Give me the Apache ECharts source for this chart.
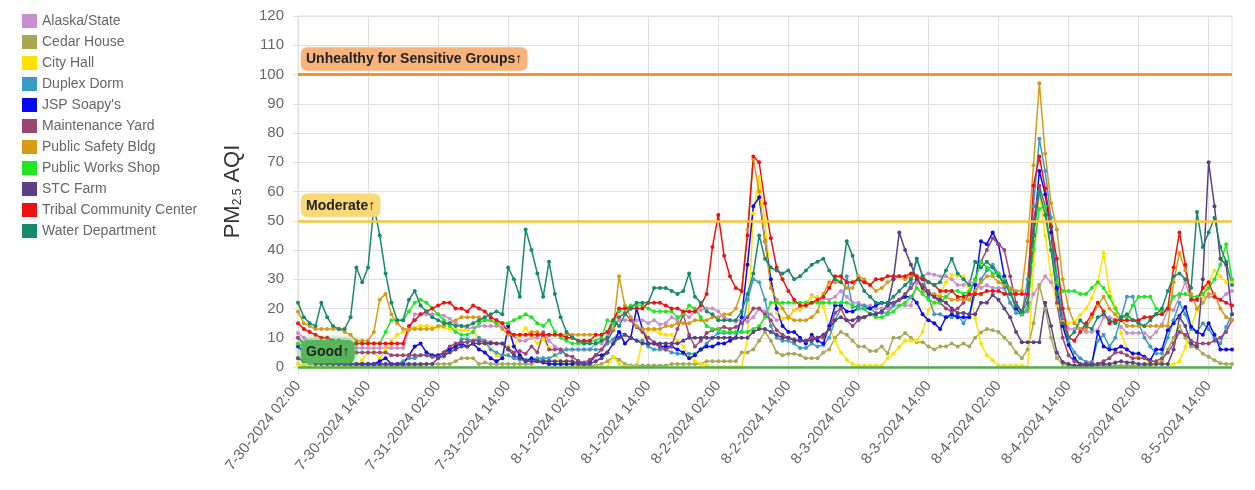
<!DOCTYPE html>
<html>
<head>
<meta charset="utf-8">
<script src="https://cdn.jsdelivr.net/npm/echarts@6/dist/echarts.min.js"></script>
<style>
  html, body { margin: 0; padding: 0; background: #ffffff; }
  #chart { width: 1255px; height: 490px; }
</style>
</head>
<body>
<div id="chart"></div>
<script>
// Hourly PM2.5 AQI readings, 7-30-2024 02:00 through 8-5-2024 18:00
const alaskaState = [
  11.6,10,8.5,7.7,7.7,7.7,7.7,7,7,6.5,6.5,6.5,
  6.5,6.5,6.5,6.5,6.5,6.5,6.5,12.6,18,18,18,18,
  18,17.5,16.5,15,14,13,13.5,14,14,14,14,13.7,
  12.6,10.5,9,9,10,10,12,9,7,6,6,6,
  6,6,6,8,8,10.5,13,16,16,16,16,16,
  15,16,14.5,15,17,16,18.5,17,19,19.5,20,20,
  19,17,16,15.5,16.5,15.5,17,20,19,18,16,16.5,
  17,19.5,20.5,21,24.5,23.5,23.5,23,24,26,24,22,
  22,21,21,20,20,20,21,21,21,21,28.6,31,
  32,31.5,31,31,30,28,28,29,29,27,28,27,
  27,27,22,20,18,19,25,28,31,29,25,20,
  13,13,13,12,12,12.6,17,17,16,13.7,11.6,11.6,
  11.6,11.6,10,12,14.5,19.5,19.5,24,29,23,23,24,
  24,24,23,25,26
];
const cedarHouse = [
  3,2,1,1,1,1,1,1,0.5,0.5,0.5,0.5,
  0.5,0.5,0.5,0.5,0.5,0.5,0.5,0.5,0.5,0.5,1,1,
  1,1,1,2,3,3,3,1,1.5,1,1,1,
  1,1,1,1,1,2,3,1,1,1,1,1,
  0.5,0.5,0.5,0.5,1,2,3.5,2.5,1,0.5,0.5,0.5,
  0.5,0.5,0.5,0.5,1,1,1,1,1,1,2,2,
  2,2,2,2,5,5,6,9,12,9,5,4,
  4.5,4.5,4,3,3,3,5,6,10,12,11,9,
  7,7,5.5,5.5,7,4.6,10,10,11.6,10,8.5,8.5,
  7,6,7,7,8,7,8,7,10,11.8,13,12.6,
  12,10,8,5,3,6,15,28,20,10,3,1,
  0.5,0.5,0.5,0.5,0.5,0.5,0.5,0.5,0.5,0.5,0.5,0.5,
  0.5,0.5,0.5,1,2,6,10,14,10,7,6.5,4.5,
  3.5,2.3,1.3,1,1
];
const cityHall = [
  1,0.5,0,0,0,0,0,0,0,0,0.5,2.3,
  5,5,3,6,9,11,12,13,13.5,14,14,13.7,
  13.5,13.5,13,13,12.6,12.6,12,10,8,6,4,3,
  7,7,10.5,13.3,10.5,8,9.5,6.8,4,2,1,0.5,
  0,0,0,0,0,0,3.5,1,0,0,0,9,
  12.6,12.6,11.5,11,11,9,7,4,2,1,0.5,0,
  0,0,0,0,0,10,52.6,65,49,30,18.5,16.7,
  16.7,19.5,19.5,22,24,24,20.5,13.7,9,5,2.5,1,
  0.5,0.5,0.5,0.5,0.5,3,4.6,6.8,9,9,9,12,
  19.5,22,25,29,31.5,31,31,26,16.7,8,4,2.3,
  0.5,0.5,0.5,0.5,0.5,0,35,60,45,31.5,21,15.4,
  15,15.4,17.8,20,23.6,29,39,26,20.5,11.6,6,4.5,
  3,3,1.3,1.3,1,1,1,2,6.8,13.7,19.5,24,
  29,33,31,29,29
];
const duplexDorm = [
  10,8,6,5,4,3,2,2,2,1,1,1,
  1,1,1,1,1,1,2,3,3,4,4,3.5,
  3.5,3.5,6,7,9.5,9.5,9,10,9,6,5,4,
  4,3,2.5,2.5,2.5,3,3,3,4,5,6,6,
  6,6,6,6,6,8,9.5,12,11,10,9,9,
  7,6,6,6,5,4.5,4.5,4.5,4.5,6,8,10,
  11.6,11.6,11.6,11.6,12,23,30,29,23,14,10,9,
  9,8,6.5,6.5,8,7,7.5,10,16,20,31,20.5,
  21,21,20,18.5,18.5,18.5,21,23,24,28.6,37,31,
  24,18,18,17,17,18,15,18,25,30,33,35,
  32,27,22,18.5,18,30,55,78,67,51,31,17,
  8.5,5,3,1.7,1.7,9,11,7,10,17,24,24,
  15,10,7,4.6,4.6,10,16,22,18,13,12,15,
  13,10,8,13.7,18
];
const jspSoapys = [
  7,5,3,2,1.5,1.5,1,1,1,1,1,1,
  1,1,2,3,1,1,1,4,7,8,5,4,
  4,5,6,7,8,7,8,6,5,3,2,3,
  14,7,4,2,3,2,1.5,1,1,1,1,1,
  2,1,1.5,4,4,5,8,12,8,10,20,13,
  8,8,7,7,7,6,5,3,4,6,7,7,
  8,8,9,10,17,35,55,58,43,30,20,14,
  12,12,10,8,11,9,8,14,21,21,19,19,
  20,20,20,21,22,22,22,23,24,24,22,18,
  16,15,13,17,18,17,17,17,28,43,42,46,
  42,31,26,20,18,20,45,67,59,46,27,14,
  7.5,3,1,1,1,12,7,6,6,7,6,4.6,
  4.6,3.5,2.3,6,6,12.6,15,17.5,20.5,13.8,12,11,
  15,11,6,6,6
];
const maintenanceYard = [
  10,8,6,5,5,5,5,5,5,5,5,5,
  5,5,5,5,4,4,4,4,4,4,4,3.5,
  3.5,5,7,8,8.5,8.5,9,9,8.5,8.5,8,8,
  6.5,5,5.5,4.5,7,5,11.6,6,6,6,4,3.5,
  2,1.5,2.5,4,6,9,12.6,17,18.5,16,13.7,12,
  10,8.5,7,6,7,13,18,11,7,9,11.6,12.6,
  13,13.7,13,13.7,15,17,20,20,18,16,12.6,11,
  10,9.5,9,9,10,10,10,13,18.5,20,16,14,
  16,17,18,18,19,21,22,23,25,27,30,28,
  26,24,22,20,19,20,22,25,30,36,40,44,
  42,40,31,22,19,25,50,62,55,48,22,10,
  4,2,1,1,1,1,2,3,5,5,4,3,
  3,3,2,2,3,5,8,12,11,9,8,8,
  8,9,10,12,16
];
const publicSafetyBldg = [
  19,15,14,13,13,13,13,13,12,11,9,9,
  9,12,23,25,18,15,13,13,13,13,13,13,
  14,14,15,16,17,17,17,17,16,16,15,13,
  11,11,11,11,12,12,11,11,11,11,11,11,
  11,11,11,11,11,12,13,31,21,17,14,13,
  13,13,13,14,14,15,15,15,16,16,16,17,
  17,18,18,20,26,47,71,60,43,27,23,20,
  17,16,16,16,17,19,25,29,29,29,27,27,
  31,30,28,26,27,29,30,31,30,31,31,26,
  25,25,24,24,23,23,23,23,26,29,31,31,
  29,28,27,26,26,43,69,97,73,56,47,30,
  20,15,13,13,17,21,24,20,18,16,14,14,
  14,14,14,14,14,14,29,39,33,25,20,22,
  25,25,20,17,16
];
const publicWorksShop = [
  8,7,7,7,6,6,6,7,7,7,8,8,
  8,8,8,12,16,16,16,19,22,23,22,20,
  18,16,14,12,11,11,12,15,16,16,15,15,
  15,16,17,18,17,15,14,16,12,10,9,8,
  8,8,9,9,10,16,15,19,20,21,21,21,
  20,19,19,19,19,17,18,21,20,17,14,13,
  13,12,12,12,12,12,13,14,17,22,22,22,
  22,22,22,22,22,22,22,22,22,22,22,21,
  20,20,18,17,17,18,19,21,22,24,27,25,
  23,22,22,24,26,26,25,26,30,36,34,32,
  32,30,26,21,18,20,40,54,55,40,29,26,
  26,26,25,25,27,29,27,24,20,17,17,21,
  24,24,24,20,19,20,24,25,25,24,24,25,
  27,30,35,42,30
];
const stcFarm = [
  3,2,2,1,1,1,1,1,1,1,1,1,
  1,1,1,1,1,1,1,1,1,1,1,1,
  3,4,5,6,7,7,8,8,8,8,8,8,
  6,4,3,2,2,2,2,2,2,2,2,2,
  1,1,1,2,3,5,8,10,11,10,9,8,
  8,8,8,8,8,8,9,10,10,10,10,10,
  10,10,10,10,10,10,12,13,13,12,11,10,
  10,9,9,9,9,10,11,13,16,17,16,16,
  17,17,18,18,19,21,30,46,40,35,30,27,
  25,24,23,22,20,18.5,18.5,18,18,22,22,24.6,
  23,20,17,12,8.5,8.5,8.5,8.5,22,14,5,1.7,
  1,0.5,0.5,0.5,0.5,1,1,1,1.5,2,1.5,1.5,
  1,1,1,1,1,1,6,17,14,8,7,30,
  70,55,37,35,18
];
const tribalCommunityCenter = [
  15,13,12,11,10,10,9,9,8,8,8,8,
  8,8,8,8,8,8,8,14,16,18,19,20,
  21,22,22,20,20,19,21,20,19,17,16,15,
  12,11,11,11,11,11,11,11,11,11,10,10,
  9,9,9,11,11,12,16,20,20,20,20,20,
  22,22,22,21,20,20,19,19,19,21,25,41,
  52,38,31,27,26,45,72,70,56,44,34,30,
  26,23,21,21,22,23,24,27,31,31,29,29,
  30,29,28,30,30,31,31,31,31,32,31,30,
  29,28,26,26,26,24,24,25,25,25,26,26,
  26,25,25,25,25,25,62,72,61,48,37,20,
  10,9,12,15,18,22,19,15,16,16,16,16,
  16,17,17,18,18,20,34,46,35,23,23,27,
  29,24,23,22,21
];
const waterDepartment = [
  22,17,15,14,22,17,14,13,13,17,34,29,
  34,55,45,32,22,16,16,23,26,21,19,17,
  16,15,15,14,14,14,15,16,17,18,19,18,
  34,30,24,47,40,32,24,36,25,17,12,10,
  9,8,8,8,9,10,16,14,18,20,22,22,
  22,27,27,27,26,25,26,32,24,22,19,18,
  16,16,16,16,19,25,32,45,37,34,33,32,
  33,30,31,33,35,36,37,33,30,29,43,38,
  30,26,24,22,22,22,24,26,28,30,37,31,
  29,28,29,33,37,32,30,28,36,34,36,34,
  31,29,25,21,19,22,45,60,52,40,25,15,
  10,12,16,14,13,17,18,16,15,17,18,16,
  15,14,16,18,20,26,31,32,30,27,53,41,
  46,51,41,36,28
];

// Monitor names and colours, in legend order
const siteNames = [
  'Alaska/State', 'Cedar House', 'City Hall', 'Duplex Dorm', "JSP Soapy's",
  'Maintenance Yard', 'Public Safety Bldg', 'Public Works Shop', 'STC Farm',
  'Tribal Community Center', 'Water Department'
];
const siteValues = [
  alaskaState, cedarHouse, cityHall, duplexDorm, jspSoapys,
  maintenanceYard, publicSafetyBldg, publicWorksShop, stcFarm,
  tribalCommunityCenter, waterDepartment
];
const siteColors = [
  '#c98ed0', '#a9a852', '#ffe100', '#3a9bc4', '#0a0af0',
  '#9c4672', '#d89a17', '#22e622', '#5b3f84',
  '#ee1111', '#168a6a'
];

// AQI category thresholds
const levelValues = [0, 50, 100];
const levelNames = ['Good\u2191', 'Moderate\u2191', 'Unhealthy for Sensitive Groups\u2191'];
const levelLineColors = ['#4caf50', '#f5c53a', '#f0943a'];
const levelBoxColors = ['#57b65a', '#f8d877', '#f6b47c'];

// Hourly category labels, e.g. "7-30-2024 02:00"
const startHour = new Date(2024, 6, 30, 2, 0, 0);
const hourLabels = waterDepartment.map((_, i) => {
  const t = new Date(startHour.getTime() + i * 3600 * 1000);
  const hh = String(t.getHours()).padStart(2, '0');
  return (t.getMonth() + 1) + '-' + t.getDate() + '-' + t.getFullYear() + ' ' + hh + ':00';
});

const FONT = '"Liberation Sans", Arial, sans-serif';

const chart = echarts.init(document.getElementById('chart'), null, { renderer: 'canvas' });

const lineSeries = siteNames.map((name, k) => ({
  name: name,
  type: 'line',
  data: siteValues[k],
  symbol: 'circle',
  symbolSize: 4,
  showAllSymbol: true,
  itemStyle: { color: siteColors[k] },
  lineStyle: { color: siteColors[k], width: 1.5 },
  emphasis: { disabled: true },
  z: 3
}));

const levelSeries = {
  name: 'levels',
  type: 'line',
  data: [],
  silent: true,
  z: 2,
  markLine: {
    symbol: 'none',
    silent: true,
    animation: false,
    data: levelValues.map((v, k) => ({
      yAxis: v,
      lineStyle: { color: levelLineColors[k], width: k === 2 ? 3 : 2.5, type: 'solid' },
      label: {
        show: true,
        position: 'insideStartTop',
        distance: [3, 4],
        formatter: levelNames[k],
        color: '#222',
        fontFamily: FONT,
        fontSize: 14,
        fontWeight: 'bold',
        backgroundColor: levelBoxColors[k],
        borderRadius: 6,
        padding: [5, 5, 4, 5],
        shadowBlur: k === 0 ? 8 : 2,
        shadowColor: levelBoxColors[k]
      }
    }))
  }
};

chart.setOption({
  animation: false,
  textStyle: { fontFamily: FONT },
  legend: {
    orient: 'vertical',
    left: 17,
    top: 9,
    icon: 'rect',
    itemWidth: 15,
    itemHeight: 14,
    itemGap: 7,
    selectedMode: false,
    data: siteNames,
    textStyle: { color: '#666', fontSize: 14, fontFamily: FONT }
  },
  grid: {
    left: 298,
    right: 23,
    top: 16,
    bottom: 123,
    show: true,
    borderColor: '#e0e0e0',
    borderWidth: 1
  },
  xAxis: {
    type: 'category',
    data: hourLabels,
    boundaryGap: false,
    axisLine: { show: false },
    axisTick: { show: true, interval: 11, length: 8, lineStyle: { color: '#e0e0e0' } },
    splitLine: { show: true, interval: 11, lineStyle: { color: '#e0e0e0' } },
    axisLabel: {
      interval: 11,
      rotate: 51,
      margin: 16,
      color: '#666',
      fontSize: 15,
      fontFamily: FONT
    }
  },
  yAxis: {
    type: 'value',
    min: 0,
    max: 120,
    interval: 10,
    name: '{a|PM}{b|2.5}{a| AQI}',
    nameLocation: 'middle',
    nameRotate: 90,
    nameGap: 54,
    nameTextStyle: {
      rich: {
        a: { fontSize: 22, color: '#333', fontFamily: FONT },
        b: { fontSize: 12, color: '#333', fontFamily: FONT, verticalAlign: 'bottom', padding: [8, 0, 0, 0] }
      }
    },
    axisLine: { show: false },
    axisTick: { show: true, length: 5, lineStyle: { color: '#e0e0e0' } },
    splitLine: { show: true, lineStyle: { color: '#e0e0e0' } },
    axisLabel: { color: '#666', fontSize: 15, margin: 14, fontFamily: FONT }
  },
  series: [levelSeries].concat(lineSeries)
});
</script>
</body>
</html>
